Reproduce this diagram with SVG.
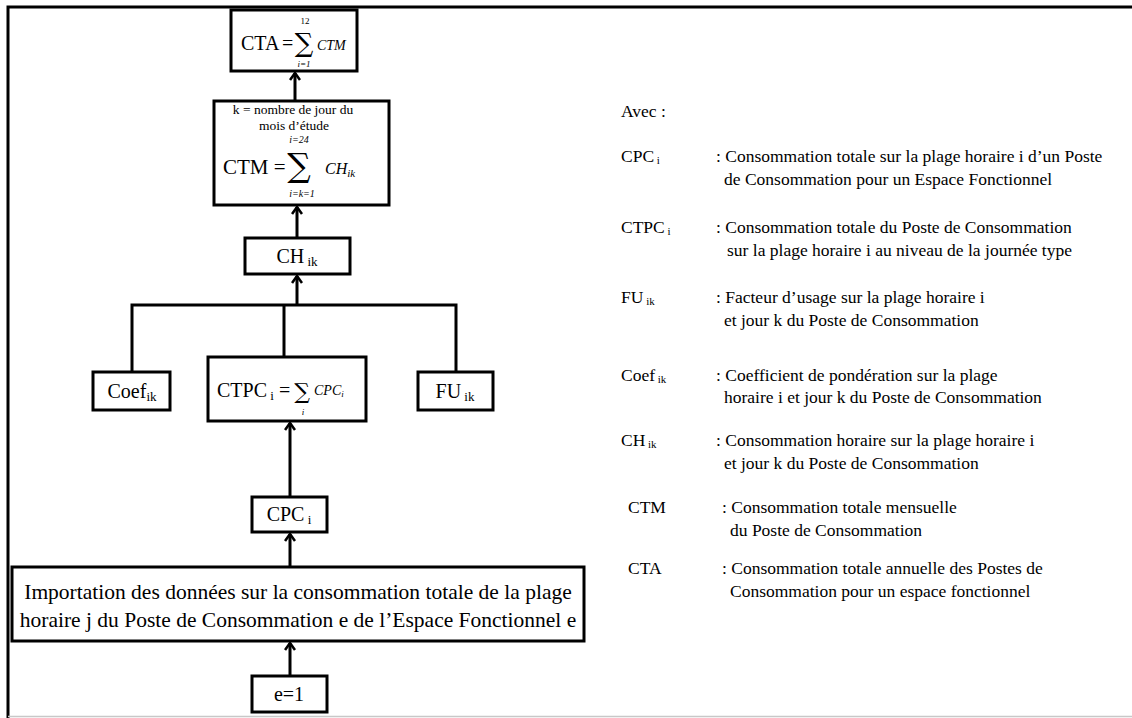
<svg xmlns="http://www.w3.org/2000/svg" width="1132" height="718" viewBox="0 0 1132 718">
<defs>
<marker id="ah" viewBox="0 0 12 12" refX="10" refY="6" markerWidth="12" markerHeight="12" markerUnits="userSpaceOnUse" orient="auto">
<path d="M3,1 L10,6 L3,11" fill="none" stroke="#000" stroke-width="2.6"/>
</marker>
</defs>
<style>
.box{fill:#fff;stroke:#000;stroke-width:3}
.ln{fill:none;stroke:#000;stroke-width:3}
text{font-family:"Liberation Serif","Times New Roman",serif;fill:#000}
.t20{font-size:20px}
.t21{font-size:21.5px}
.it{font-style:italic}
.sg{font-family:"DejaVu Serif","Liberation Serif",serif}
.lg text{font-size:17.5px}
</style>
<rect width="1132" height="718" fill="#fff"/>
<path d="M8,718 L8,7 L1132,7" fill="none" stroke="#000" stroke-width="3"/>
<line x1="8" y1="716.5" x2="1132" y2="716.5" stroke="#c8c8c8" stroke-width="1.5"/>

<g id="connectors">
<line class="ln" x1="290" y1="676" x2="290" y2="643" marker-end="url(#ah)"/>
<line class="ln" x1="290" y1="567" x2="290" y2="534" marker-end="url(#ah)"/>
<line class="ln" x1="290" y1="497" x2="290" y2="423" marker-end="url(#ah)"/>
<path class="ln" d="M132,372 L132,305 L456,305 L456,372"/>
<line class="ln" x1="284" y1="305" x2="284" y2="357"/>
<line class="ln" x1="297" y1="305" x2="297" y2="276" marker-end="url(#ah)"/>
<line class="ln" x1="297" y1="238" x2="297" y2="207" marker-end="url(#ah)"/>
<line class="ln" x1="295" y1="101" x2="295" y2="73" marker-end="url(#ah)"/>
</g>

<g id="cta">
<rect class="box" x="231" y="10" width="126" height="61"/>
<text class="t20" x="241" y="50">CTA</text>
<text class="t20" x="282" y="50">=</text>
<text class="sg" x="304" y="52" font-size="26" text-anchor="middle">∑</text>
<text x="305" y="24" font-size="9" text-anchor="middle">12</text>
<text x="304" y="67" font-size="9" text-anchor="middle" class="it">i=1</text>
<text x="317" y="50" font-size="14" class="it">CTM</text>
</g>

<g id="ctm">
<rect class="box" x="214" y="101" width="175" height="104"/>
<text x="293" y="114" font-size="13.5" text-anchor="middle">k = nombre de jour du</text>
<text x="294" y="130" font-size="13.5" text-anchor="middle">mois d’étude</text>
<text x="299" y="143" font-size="10" text-anchor="middle" class="it">i=24</text>
<text x="223" y="174" font-size="21">CTM =</text>
<text class="sg" x="299" y="177" font-size="33" text-anchor="middle">∑</text>
<text x="302" y="197" font-size="10" text-anchor="middle" class="it">i=k=1</text>
<text x="325" y="174" font-size="16" class="it">CH<tspan font-size="11" dy="3">ik</tspan></text>
</g>

<g id="ch">
<rect class="box" x="245" y="238" width="105" height="36"/>
<text class="t20" x="297" y="263" text-anchor="middle">CH<tspan font-size="13" dy="3"> ik</tspan></text>
</g>

<g id="coef">
<rect class="box" x="93" y="372" width="77" height="38"/>
<text class="t20" x="132" y="398" text-anchor="middle">Coef<tspan font-size="13" dy="3">ik</tspan></text>
</g>

<g id="ctpc">
<rect class="box" x="208" y="357" width="158" height="64"/>
<text class="t20" x="217" y="397">CTPC<tspan font-size="13" dy="3"> i</tspan><tspan dy="-3"> =</tspan></text>
<text class="sg" x="302" y="399" font-size="22" text-anchor="middle">∑</text>
<text x="303" y="415" font-size="9" text-anchor="middle" class="it">i</text>
<text x="314" y="395" font-size="14" class="it">CPC<tspan font-size="9" dy="2">i</tspan></text>
</g>

<g id="fu">
<rect class="box" x="418" y="372" width="75" height="38"/>
<text class="t20" x="455" y="398" text-anchor="middle">FU<tspan font-size="13" dy="3"> ik</tspan></text>
</g>

<g id="cpc">
<rect class="box" x="252" y="497" width="75" height="35"/>
<text class="t20" x="289" y="521" text-anchor="middle">CPC<tspan font-size="13" dy="3"> i</tspan></text>
</g>

<g id="import">
<rect class="box" x="12" y="567" width="572" height="74"/>
<text class="t21" x="298" y="599" text-anchor="middle">Importation des données sur la consommation totale de la plage</text>
<text class="t21" x="298" y="627" text-anchor="middle">horaire j du Poste de Consommation e de l’Espace Fonctionnel e</text>
</g>

<g id="e1">
<rect class="box" x="252" y="676" width="75" height="36"/>
<text class="t20" x="289" y="701" text-anchor="middle">e=1</text>
</g>

<g id="legend" class="lg">
<text x="621" y="117">Avec :</text>
<text x="621" y="162">CPC<tspan font-size="11" dy="2"> i</tspan></text>
<text x="716" y="162">: Consommation totale sur la plage horaire i d’un Poste</text>
<text x="724" y="185">de Consommation pour un Espace Fonctionnel</text>
<text x="621" y="233">CTPC<tspan font-size="11" dy="2"> i</tspan></text>
<text x="716" y="233">: Consommation totale du Poste de Consommation</text>
<text x="727" y="256">sur la plage horaire i au niveau de la journée type</text>
<text x="621" y="303">FU<tspan font-size="11" dy="2"> ik</tspan></text>
<text x="716" y="303">: Facteur d’usage sur la plage horaire i</text>
<text x="724" y="326">et jour k du Poste de Consommation</text>
<text x="621" y="381">Coef<tspan font-size="11" dy="2"> ik</tspan></text>
<text x="716" y="381">: Coefficient de pondération sur la plage</text>
<text x="724" y="403">horaire i et jour k du Poste de Consommation</text>
<text x="621" y="446">CH<tspan font-size="11" dy="2"> ik</tspan></text>
<text x="716" y="446">: Consommation horaire sur la plage horaire i</text>
<text x="724" y="469">et jour k du Poste de Consommation</text>
<text x="628" y="513">CTM</text>
<text x="722" y="513">: Consommation totale mensuelle</text>
<text x="730" y="536">du Poste de Consommation</text>
<text x="628" y="574">CTA</text>
<text x="722" y="574">: Consommation totale annuelle des Postes de</text>
<text x="730" y="597">Consommation pour un espace fonctionnel</text>
</g>
</svg>
